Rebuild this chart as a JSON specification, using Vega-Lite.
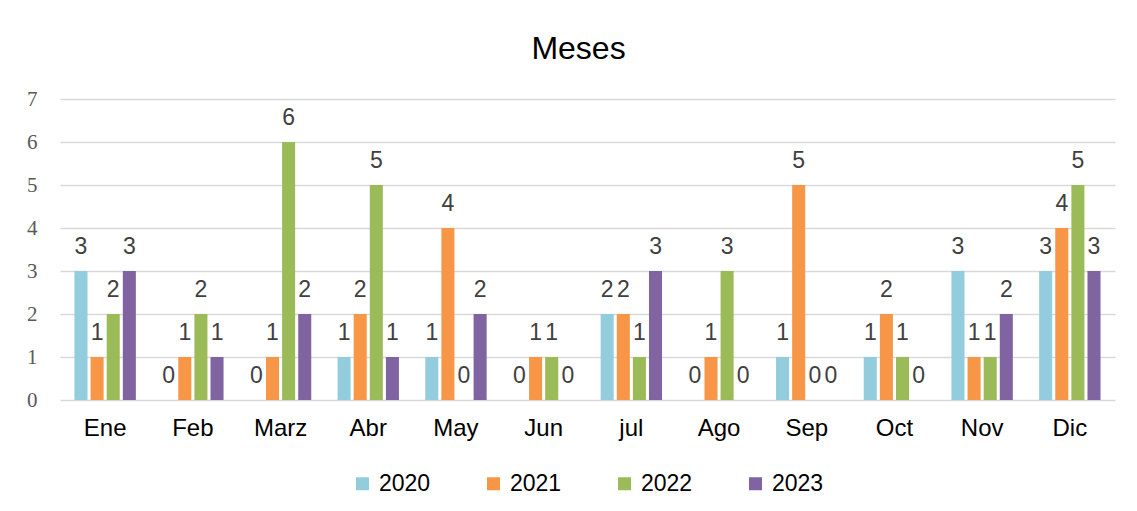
{
  "$schema": "https://vega.github.io/schema/vega-lite/v6.json",
  "width": 1055,
  "height": 301,
  "autosize": "none",
  "padding": {"left": 60, "top": 99, "right": 22, "bottom": 111},
  "background": "white",
  "config": {
    "view": {"stroke": null},
    "legend": {"layout": {"bottom": {"anchor": "middle"}}}
  },
  "title": {"text": "Meses", "fontSize": 32, "font": "Liberation Sans", "fontWeight": "normal", "color": "#000000", "frame": "group", "offset": 22, "dx": -9},
  "data": {"values": [
    {"mes": "Ene", "anio": "2020", "valor": 3}, {"mes": "Ene", "anio": "2021", "valor": 1}, {"mes": "Ene", "anio": "2022", "valor": 2}, {"mes": "Ene", "anio": "2023", "valor": 3},
    {"mes": "Feb", "anio": "2020", "valor": 0}, {"mes": "Feb", "anio": "2021", "valor": 1}, {"mes": "Feb", "anio": "2022", "valor": 2}, {"mes": "Feb", "anio": "2023", "valor": 1},
    {"mes": "Marz", "anio": "2020", "valor": 0}, {"mes": "Marz", "anio": "2021", "valor": 1}, {"mes": "Marz", "anio": "2022", "valor": 6}, {"mes": "Marz", "anio": "2023", "valor": 2},
    {"mes": "Abr", "anio": "2020", "valor": 1}, {"mes": "Abr", "anio": "2021", "valor": 2}, {"mes": "Abr", "anio": "2022", "valor": 5}, {"mes": "Abr", "anio": "2023", "valor": 1},
    {"mes": "May", "anio": "2020", "valor": 1}, {"mes": "May", "anio": "2021", "valor": 4}, {"mes": "May", "anio": "2022", "valor": 0}, {"mes": "May", "anio": "2023", "valor": 2},
    {"mes": "Jun", "anio": "2020", "valor": 0}, {"mes": "Jun", "anio": "2021", "valor": 1}, {"mes": "Jun", "anio": "2022", "valor": 1}, {"mes": "Jun", "anio": "2023", "valor": 0},
    {"mes": "jul", "anio": "2020", "valor": 2}, {"mes": "jul", "anio": "2021", "valor": 2}, {"mes": "jul", "anio": "2022", "valor": 1}, {"mes": "jul", "anio": "2023", "valor": 3},
    {"mes": "Ago", "anio": "2020", "valor": 0}, {"mes": "Ago", "anio": "2021", "valor": 1}, {"mes": "Ago", "anio": "2022", "valor": 3}, {"mes": "Ago", "anio": "2023", "valor": 0},
    {"mes": "Sep", "anio": "2020", "valor": 1}, {"mes": "Sep", "anio": "2021", "valor": 5}, {"mes": "Sep", "anio": "2022", "valor": 0}, {"mes": "Sep", "anio": "2023", "valor": 0},
    {"mes": "Oct", "anio": "2020", "valor": 1}, {"mes": "Oct", "anio": "2021", "valor": 2}, {"mes": "Oct", "anio": "2022", "valor": 1}, {"mes": "Oct", "anio": "2023", "valor": 0},
    {"mes": "Nov", "anio": "2020", "valor": 3}, {"mes": "Nov", "anio": "2021", "valor": 1}, {"mes": "Nov", "anio": "2022", "valor": 1}, {"mes": "Nov", "anio": "2023", "valor": 2},
    {"mes": "Dic", "anio": "2020", "valor": 3}, {"mes": "Dic", "anio": "2021", "valor": 4}, {"mes": "Dic", "anio": "2022", "valor": 5}, {"mes": "Dic", "anio": "2023", "valor": 3}
  ]},
  "encoding": {
    "x": {
      "field": "mes", "type": "nominal",
      "sort": ["Ene", "Feb", "Marz", "Abr", "May", "Jun", "jul", "Ago", "Sep", "Oct", "Nov", "Dic"],
      "scale": {"paddingInner": 0.3, "paddingOuter": 0.165},
      "axis": {"title": null, "labelAngle": 0, "labelFont": "Liberation Sans", "labelFontSize": 24, "labelColor": "#000000", "labelPadding": 16, "ticks": false, "domain": false, "grid": false}
    },
    "xOffset": {"field": "anio", "type": "nominal", "scale": {"paddingInner": 0.19, "paddingOuter": 0}},
    "y": {
      "field": "valor", "type": "quantitative",
      "scale": {"domain": [0, 7], "nice": false},
      "axis": {"title": null, "values": [0, 1, 2, 3, 4, 5, 6, 7], "labelFont": "Liberation Serif", "labelFontSize": 21, "labelColor": "#595959", "labelPadding": 23, "ticks": false, "domain": false, "grid": true, "gridColor": "#d9d9d9", "gridWidth": 1.5}
    }
  },
  "layer": [
    {
      "mark": {"type": "bar"},
      "encoding": {
        "color": {
          "field": "anio", "type": "nominal",
          "scale": {"domain": ["2020", "2021", "2022", "2023"], "range": ["#93CDDD", "#F79646", "#9BBB59", "#8064A2"]},
          "legend": {"title": null, "orient": "bottom", "direction": "horizontal", "offset": 32, "symbolType": "square", "symbolSize": 169, "symbolStrokeWidth": 0, "labelFont": "Liberation Sans", "labelFontSize": 23, "labelColor": "#000000", "labelOffset": 5, "columnPadding": 51}
        }
      }
    },
    {
      "mark": {"type": "text", "baseline": "alphabetic", "dy": -17, "font": "Liberation Sans", "fontSize": 23, "color": "#404040"},
      "encoding": {"text": {"field": "valor", "type": "quantitative"}}
    }
  ]
}
